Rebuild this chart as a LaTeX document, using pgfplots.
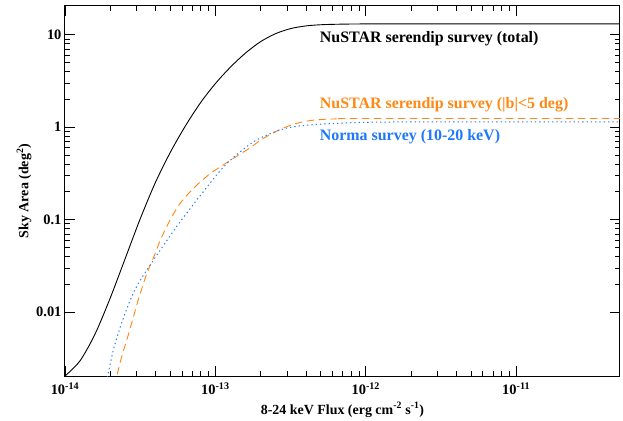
\documentclass[border=0pt]{standalone}
\usepackage{fontspec}
\setmainfont{Liberation Serif}
\usepackage{pgfplots}
\pgfplotsset{compat=1.18}
\definecolor{myorange}{RGB}{255,136,20}
\definecolor{myblue}{RGB}{30,120,255}
\begin{document}
\begin{tikzpicture}
\begin{axis}[
  scale only axis,
  width=555bp, height=370bp,
  xmode=log, ymode=log,
  xmin=1e-14, xmax=4.9e-11,
  ymin=0.00203, ymax=20.5,
  axis line style={line width=1pt},
  tick style={black, line width=0.7pt},
  major tick length=10bp, minor tick length=5bp,
  tick align=inside,
  xtick={1e-14,1e-13,1e-12,1e-11},
  xticklabels={10\textsuperscript{-14},10\textsuperscript{-13},10\textsuperscript{-12},10\textsuperscript{-11}},
  ytick={0.01,0.1,1,10},
  yticklabels={0.01,0.1,1,10},
  tick label style={font=\bfseries\fontsize{14.5}{14.5}\selectfont},
  xticklabel style={yshift=-3bp},
  xlabel={8-24 keV Flux (erg cm\textsuperscript{-2} s\textsuperscript{-1})},
  ylabel={Sky Area (deg\textsuperscript{2})},
  label style={font=\bfseries\fontsize{14}{14}\selectfont},
  xlabel style={yshift=-1bp},
  ylabel style={yshift=-2bp},
  clip=true,
]
\addplot[black, line width=0.9pt, smooth] coordinates {
(1e-14,0.002028) (1.259e-14,0.002965) (1.585e-14,0.005781) (1.995e-14,0.01403)
(2.512e-14,0.03776) (3.162e-14,0.1016) (3.981e-14,0.2495) (5.012e-14,0.5333)
(6.310e-14,1.028) (7.943e-14,1.828) (1e-13,2.965) (1.259e-13,4.467)
(1.585e-13,6.339) (1.995e-13,8.414) (2.512e-13,10.28) (3.162e-13,11.67)
(3.981e-13,12.47) (5.012e-13,12.85) (6.310e-13,13.0) (7.943e-13,13.08)
(1e-12,13.12) (1.259e-12,13.15) (5e-11,13.15)
};
\addplot[myorange, line width=0.9pt, dash pattern=on 7.5bp off 4.5bp, smooth] coordinates {
(2.138e-14,0.001585) (2.208e-14,0.002023) (2.382e-14,0.003266) (2.612e-14,0.005370)
(2.844e-14,0.008710) (3.069e-14,0.01349) (3.491e-14,0.02570) (3.917e-14,0.04027)
(4.365e-14,0.06310) (5.117e-14,0.1062) (5.808e-14,0.1483) (6.592e-14,0.1897)
(7.691e-14,0.2438) (9.183e-14,0.3126) (1.099e-13,0.3802) (1.384e-13,0.4842)
(1.694e-13,0.5957) (2.028e-13,0.7362) (2.553e-13,0.9057) (3.048e-13,1.026)
(3.741e-13,1.135) (4.699e-13,1.202) (6.310e-13,1.230) (8.913e-13,1.242)
(5.012e-11,1.242)
};
\addplot[myblue, line width=1pt, dash pattern=on 1.3bp off 3bp, smooth] coordinates {
(1.862e-14,0.001585) (1.923e-14,0.002023) (2.094e-14,0.003855) (2.259e-14,0.005848)
(2.506e-14,0.009616) (2.773e-14,0.01452) (3.069e-14,0.02028) (3.491e-14,0.02818)
(4.064e-14,0.04093) (5.117e-14,0.07031) (5.521e-14,0.08414) (6.109e-14,0.1047)
(6.776e-14,0.1303) (7.499e-14,0.1622) (8.299e-14,0.1995) (9.441e-14,0.2600)
(1.072e-13,0.3350) (1.247e-13,0.4345) (1.416e-13,0.5188) (1.782e-13,0.6918)
(2.301e-13,0.8492) (2.972e-13,0.9772) (3.828e-13,1.042) (4.943e-13,1.076)
(7.079e-13,1.109) (1e-12,1.130) (1.995e-12,1.140) (5.012e-11,1.143)
};
\node[anchor=west, font=\bfseries\fontsize{16}{16}\selectfont, text=black, inner sep=0pt] at (axis cs:4.94e-13,9.08) {NuSTAR serendip survey (total)};
\node[anchor=west, font=\bfseries\fontsize{16}{16}\selectfont, text=myorange, inner sep=0pt] at (axis cs:4.94e-13,1.75) {NuSTAR serendip survey (|b|<5 deg)};
\node[anchor=west, font=\bfseries\fontsize{16}{16}\selectfont, text=myblue, inner sep=0pt] at (axis cs:4.94e-13,0.79) {Norma survey (10-20 keV)};
\end{axis}
\path ([shift={(-65bp,-41bp)}]current axis.south west) rectangle ([shift={(3bp,6bp)}]current axis.north east);
\end{tikzpicture}
\end{document}
